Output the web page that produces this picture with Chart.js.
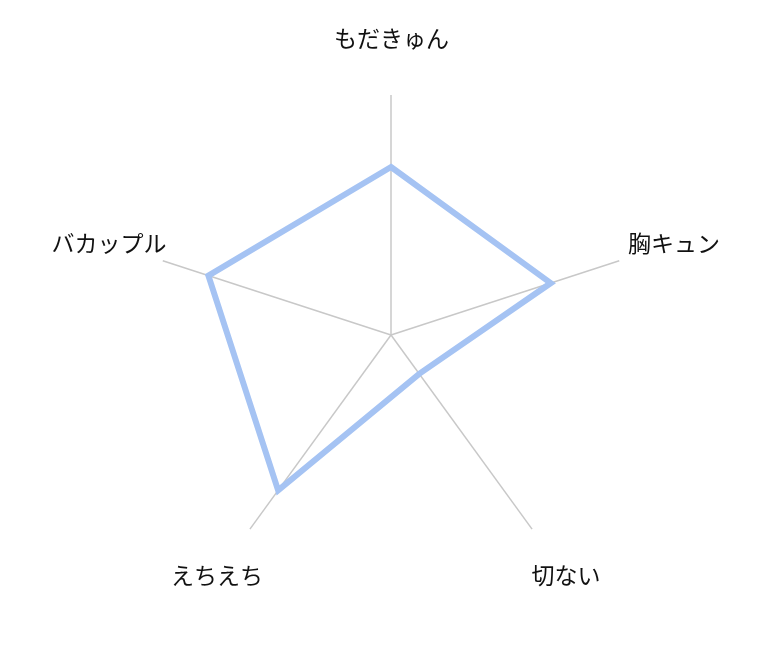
<!DOCTYPE html>
<html>
<head>
<meta charset="utf-8">
<script src="https://cdn.jsdelivr.net/npm/chart.js@4/dist/chart.umd.min.js"></script>
<style>
  html, body { margin: 0; padding: 0; background: #fff; }
  #wrap { width: 782px; height: 671px; }
</style>
</head>
<body>
<div id="wrap"><canvas id="chart"></canvas></div>
<script>
// data
const categories = ["もだきゅん", "胸キュン", "切ない", "えちえち", "バカップル"];
const values = [7, 7, 2, 8, 8];
const scaleMin = 0;
const scaleMax = 10;

// labels drawn centred a fixed distance beyond each spoke
const labelPlugin = {
  id: "centredLabels",
  afterDraw(c) {
    const r = c.scales.r;
    const ctx = c.ctx;
    ctx.save();
    ctx.font = "23px 'Noto Sans CJK JP', 'Noto Sans', sans-serif";
    ctx.fillStyle = "#111";
    ctx.textAlign = "center";
    ctx.textBaseline = "middle";
    categories.forEach((label, i) => {
      const p = r.getPointPosition(i, r.drawingArea + 57);
      ctx.fillText(label, p.x + 0.5, p.y);
    });
    ctx.restore();
  },
};

new Chart(document.getElementById("chart"), {
  type: "radar",
  data: {
    labels: categories,
    datasets: [
      {
        data: values,
        borderColor: "#a5c3f3",
        backgroundColor: "transparent",
        borderWidth: 6,
        pointRadius: 0,
        pointHoverRadius: 0,
        fill: false,
        tension: 0,
      },
    ],
  },
  options: {
    responsive: true,
    maintainAspectRatio: false,
    animation: false,
    layout: { padding: { top: 95, bottom: 96, left: 0, right: 0 } },
    plugins: {
      legend: { display: false },
      tooltip: { enabled: false },
    },
    scales: {
      r: {
        min: scaleMin,
        max: scaleMax,
        ticks: { display: false },
        grid: { display: false },
        pointLabels: { display: false },
        angleLines: { color: "#c8c8c8", lineWidth: 1.5 },
      },
    },
  },
  plugins: [labelPlugin],
});
</script>
</body>
</html>
